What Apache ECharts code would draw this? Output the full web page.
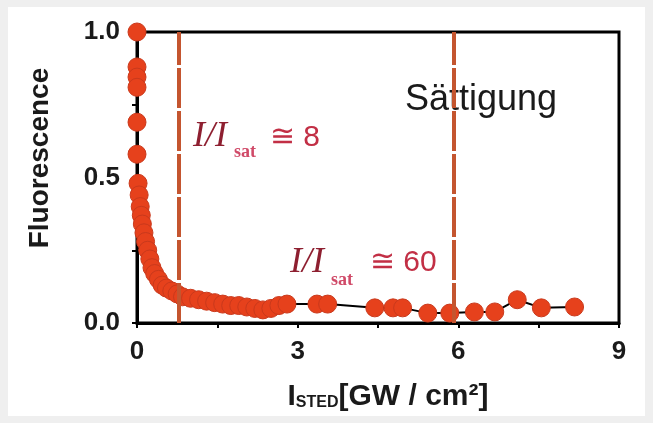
<!DOCTYPE html>
<html>
<head>
<meta charset="utf-8">
<script src="https://cdn.jsdelivr.net/npm/echarts@6/dist/echarts.min.js"></script>
<style>
  body { margin: 0; background: #efefef; }
  #panel { position: absolute; left: 8px; top: 7px; width: 637px; height: 409px; background: #fff; }
  #chart { position: absolute; left: 0; top: 0; width: 653px; height: 423px; }
</style>
</head>
<body>
<div id="panel"></div>
<div id="chart"></div>
<script>
// Messpunkte: I_STED [GW/cm²] und Fluoreszenz (normiert)
var intensity = [0.0, 0.0, 0.0, 0.0, 0.0, 0.0, 0.02, 0.04, 0.06, 0.08, 0.10, 0.13, 0.16, 0.20, 0.24, 0.28,
  0.33, 0.40, 0.47, 0.55, 0.65, 0.75, 0.85, 1.0, 1.15, 1.3, 1.45, 1.6, 1.75, 1.9, 2.05, 2.2, 2.35,
  2.5, 2.65, 2.8, 3.36, 3.56, 4.44, 4.78, 4.96, 5.43, 5.84, 6.3, 6.68, 7.1, 7.55, 8.17];
var fluorescence = [1.0, 0.88, 0.845, 0.81, 0.69, 0.58, 0.48, 0.44, 0.40, 0.37, 0.34, 0.31, 0.28, 0.25, 0.22, 0.19,
  0.17, 0.15, 0.13, 0.12, 0.11, 0.10, 0.09, 0.085, 0.08, 0.075, 0.07, 0.065, 0.06, 0.06, 0.055, 0.05, 0.045,
  0.05, 0.06, 0.065, 0.065, 0.065, 0.052, 0.052, 0.052, 0.034, 0.034, 0.038, 0.038, 0.08, 0.052, 0.055];
var xTicks = [0, 3, 6, 9];
var yTicks = [0, 0.5, 1.0];
var markers = [0.78, 5.92];   // I/Isat ≅ 8 und ≅ 60

var points = [];
for (var i = 0; i < intensity.length; i++) {
  points.push([intensity[i], fluorescence[i]]);
}

var chart = echarts.init(document.getElementById('chart'));
var labelFont = { color: '#1a1a1a', fontSize: 26, fontWeight: 'bold', fontFamily: 'Liberation Sans, Arial' };
var annoRed = '#c22f45';

var option = {
  animation: false,
  grid: {
    left: 137, top: 32, right: 34, bottom: 100,
    show: true, borderColor: '#000', borderWidth: 3, backgroundColor: 'transparent'
  },
  xAxis: {
    type: 'value', min: 0, max: 9, interval: 1.5,
    axisLine: { lineStyle: { color: '#000', width: 3 } },
    axisTick: { show: true, length: 5, lineStyle: { color: '#000', width: 2 } },
    splitLine: { show: false },
    axisLabel: Object.assign({
      margin: 16,
      formatter: function (v) { return xTicks.indexOf(v) >= 0 ? String(v) : ''; }
    }, labelFont)
  },
  yAxis: {
    type: 'value', min: 0, max: 1, interval: 0.25,
    axisLine: { show: true, lineStyle: { color: '#000', width: 3 } },
    axisTick: { show: true, length: 5, lineStyle: { color: '#000', width: 2 } },
    splitLine: { show: false },
    axisLabel: Object.assign({
      margin: 17,
      formatter: function (v) { return yTicks.indexOf(v) >= 0 ? v.toFixed(1) : ''; }
    }, labelFont)
  },
  series: [{
    type: 'line',
    data: points,
    symbol: 'circle',
    symbolSize: 18,
    lineStyle: { color: '#000', width: 2 },
    itemStyle: { color: '#e6411c', borderColor: '#c9391c', borderWidth: 1 },
    z: 3,
    markLine: {
      silent: true,
      symbol: 'none',
      label: { show: false },
      lineStyle: { color: '#c4552f', width: 4, type: [40, 3] },
      data: markers.map(function (m) { return { xAxis: m }; })
    }
  }],
  graphic: [
    {
      type: 'text', x: 40, y: 158, rotation: Math.PI / 2,
      style: { text: 'Fluorescence', fill: '#1a1a1a', font: 'bold 28px "Liberation Sans", Arial',
        align: 'center', verticalAlign: 'middle' }
    },
    {
      type: 'text', x: 388, y: 397,
      style: {
        text: '{a|I}{b|STED}{a|[GW / cm²]}', align: 'center', verticalAlign: 'middle',
        rich: {
          a: { font: 'bold 30px "Liberation Sans", Arial', fill: '#1a1a1a' },
          b: { font: 'bold 16px "Liberation Sans", Arial', fill: '#1a1a1a', padding: [11, 0, 0, 0] }
        }
      }
    },
    {
      type: 'text', x: 405, y: 100,
      style: { text: 'Sättigung', fill: '#1a1a1a', font: '36px "Liberation Sans", Arial',
        verticalAlign: 'middle' }
    },
    // I/Isat ≅ 8
    { type: 'text', x: 193, y: 137, style: { text: 'I/I', fill: '#8e1f30', font: 'italic 36px "Liberation Serif", serif', verticalAlign: 'middle' } },
    { type: 'text', x: 234, y: 152, style: { text: 'sat', fill: '#d04a68', font: 'bold 18px "Liberation Serif", serif', verticalAlign: 'middle' } },
    { type: 'text', x: 270, y: 138, style: { text: '≅ 8', fill: annoRed, font: '30px "Liberation Sans", Arial', verticalAlign: 'middle' } },
    // I/Isat ≅ 60
    { type: 'text', x: 290, y: 263, style: { text: 'I/I', fill: '#8e1f30', font: 'italic 36px "Liberation Serif", serif', verticalAlign: 'middle' } },
    { type: 'text', x: 331, y: 280, style: { text: 'sat', fill: '#d04a68', font: 'bold 18px "Liberation Serif", serif', verticalAlign: 'middle' } },
    { type: 'text', x: 370, y: 263, style: { text: '≅ 60', fill: annoRed, font: '30px "Liberation Sans", Arial', verticalAlign: 'middle' } }
  ]
};
chart.setOption(option);
</script>
</body>
</html>
